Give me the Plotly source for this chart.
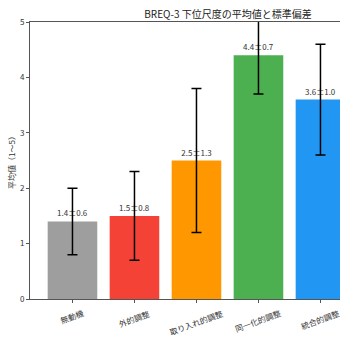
import plotly.graph_objects as go

categories = ["無動機", "外的調整", "取り入れ的調整", "同一化的調整", "統合的調整"]
means = [1.4, 1.5, 2.5, 4.4, 3.6]
sds = [0.6, 0.8, 1.3, 0.7, 1.0]
colors = ["#9E9E9E", "#F44336", "#FF9800", "#4CAF50", "#2196F3"]
y_ticks = [0, 1, 2, 3, 4, 5]

FONT = "Noto Sans CJK JP"
labels = [f"{m:.1f}±{s:.1f}" for m, s in zip(means, sds)]
xpos = list(range(len(categories)))

fig = go.Figure()
fig.add_trace(go.Bar(
    x=xpos,
    y=means,
    width=0.8,
    marker=dict(color=colors, line=dict(width=0)),
    error_y=dict(type="data", array=sds, visible=True, color="black",
                 thickness=1.5, width=5),
    text=labels,
    textposition="outside",
    textfont=dict(family=FONT, size=8, color="#333333"),
    cliponaxis=True,
))

for xi, cat in zip(xpos, categories):
    fig.add_annotation(
        x=xi, xref="x", y=0, yref="paper", yshift=-6,
        text=cat, showarrow=False, textangle=-20,
        xanchor="center", yanchor="top",
        font=dict(family=FONT, size=8, color="#333333"),
    )

fig.update_layout(
    width=340, height=340,
    margin=dict(l=30, r=0, t=22, b=41),
    paper_bgcolor="white", plot_bgcolor="white",
    showlegend=False,
    font=dict(family=FONT, size=8, color="#333333"),
    title=dict(text="BREQ-3 下位尺度の平均値と標準偏差", x=228/340, xanchor="center",
               y=1 - 14/340, yanchor="middle",
               font=dict(family=FONT, size=10, color="#222222")),
)
fig.update_xaxes(
    range=[-0.685, 4.315],
    tickmode="array", tickvals=xpos, showticklabels=False,
    ticks="outside", ticklen=3, tickcolor="#555555",
    showline=True, linecolor="#555555", linewidth=1, mirror=True,
    showgrid=False, zeroline=False,
)
fig.update_yaxes(
    range=[0, 5],
    tickmode="array", tickvals=y_ticks,
    ticks="outside", ticklen=3, tickcolor="#555555",
    tickfont=dict(family=FONT, size=8, color="#333333"),
    showline=True, linecolor="#555555", linewidth=1, mirror=False,
    showgrid=False, zeroline=False,
    title=dict(text="平均値（1〜5）", font=dict(family=FONT, size=8, color="#333333"), standoff=3),
)

fig.write_html("out.html")
